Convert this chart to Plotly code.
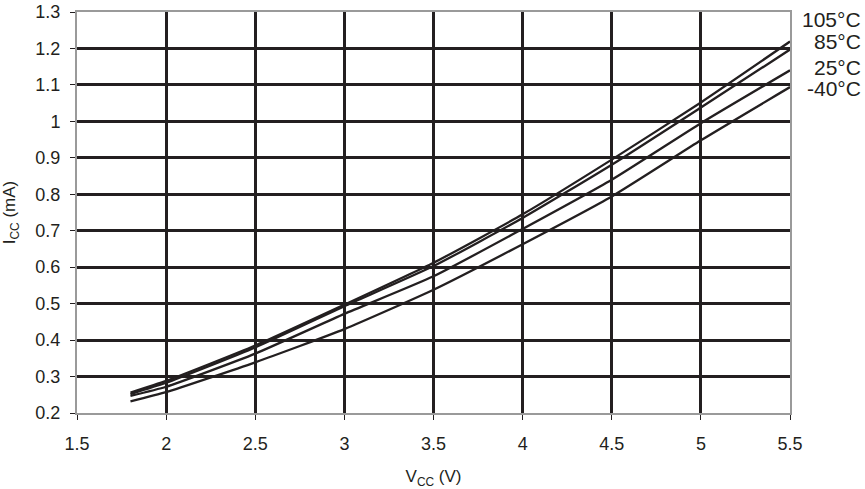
import plotly.graph_objects as go

# supply voltage (V)
vcc = [1.8, 2.0, 2.5, 3.0, 3.5, 4.0, 4.5, 5.0, 5.5]

# supply current (mA) per temperature
icc_105 = [0.256, 0.288, 0.385, 0.497, 0.612, 0.745, 0.895, 1.052, 1.219]
icc_85 = [0.252, 0.283, 0.380, 0.493, 0.603, 0.735, 0.881, 1.038, 1.197]
icc_25 = [0.247, 0.272, 0.363, 0.472, 0.575, 0.705, 0.840, 0.995, 1.140]
icc_m40 = [0.232, 0.257, 0.339, 0.430, 0.538, 0.663, 0.794, 0.948, 1.094]

temps = ["105°C", "85°C", "25°C", "-40°C"]
series = [icc_105, icc_85, icc_25, icc_m40]
label_y = [1.279, 1.219, 1.147, 1.090]

x_ticks = [1.5, 2, 2.5, 3, 3.5, 4, 4.5, 5, 5.5]
y_ticks = [0.2, 0.3, 0.4, 0.5, 0.6, 0.7, 0.8, 0.9, 1, 1.1, 1.2, 1.3]

font = "Liberation Sans, Arial, sans-serif"
ink = "#231f20"

fig = go.Figure()
for name, vals in zip(temps, series):
    fig.add_trace(go.Scatter(x=vcc, y=vals, name=name, mode="lines",
                             line=dict(color=ink, width=2.3, shape="spline", smoothing=0.5),
                             showlegend=False))

for name, ly in zip(temps, label_y):
    fig.add_annotation(text=name, xref="paper", x=1, xanchor="right", xshift=73,
                       yref="y", y=ly, showarrow=False,
                       font=dict(family=font, size=21, color=ink))

fig.update_layout(
    width=865, height=489,
    margin=dict(l=77, r=75, t=12, b=76),
    paper_bgcolor="white", plot_bgcolor="white",
    font=dict(family=font, size=18, color=ink),
    xaxis=dict(range=[1.5, 5.5], tickvals=x_ticks, ticktext=[f"{t:g}" for t in x_ticks],
               showgrid=True, gridcolor=ink, gridwidth=3,
               showline=True, linecolor="#9a9a9a", linewidth=2, mirror=True,
               ticks="outside", ticklen=5, tickcolor=ink, ticklabelstandoff=8,
               zeroline=False, automargin=False,
               title=dict(text="V<sub>CC</sub> (V)", font=dict(size=17), standoff=22)),
    yaxis=dict(range=[0.2, 1.3], tickvals=y_ticks, ticktext=[f"{t:g}" for t in y_ticks],
               showgrid=True, gridcolor=ink, gridwidth=3,
               showline=True, linecolor="#9a9a9a", linewidth=2, mirror=True,
               ticks="outside", ticklen=5, tickcolor=ink, ticklabelstandoff=6,
               zeroline=False, automargin=False,
               title=dict(text="I<sub>CC</sub> (mA)", font=dict(size=17), standoff=24)),
)

# drop the default page margin so the figure sits at the window's corner
fig.write_html("out.html", config={"displayModeBar": False},
               post_script="document.body.style.margin='0';")
